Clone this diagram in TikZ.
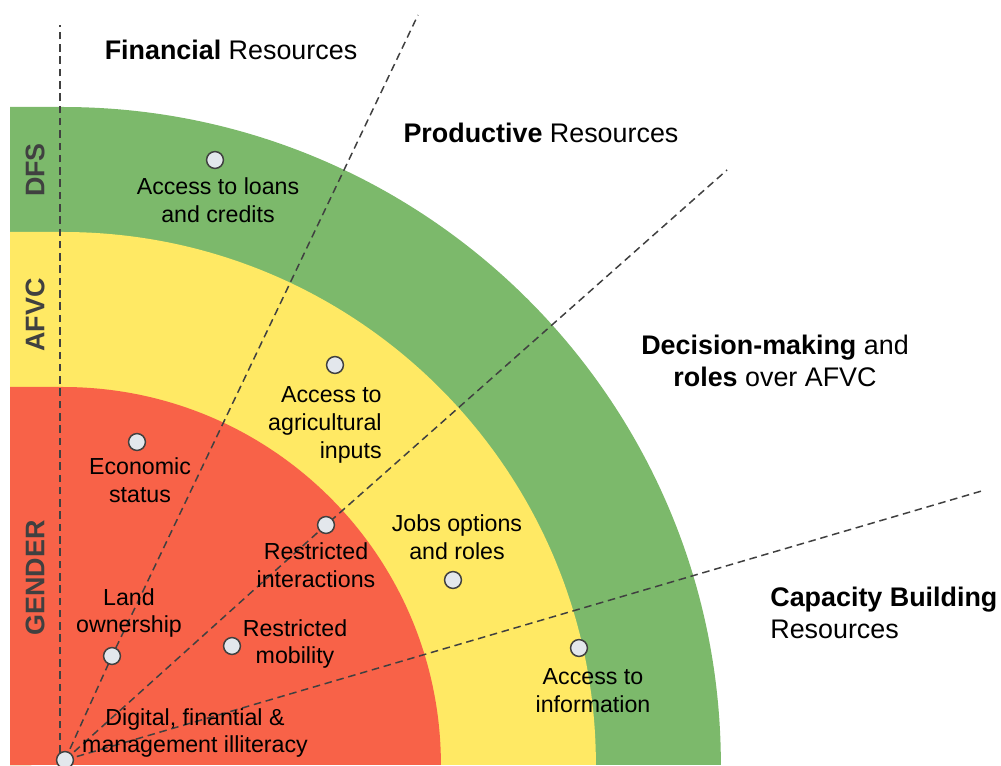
\documentclass[tikz,border=0pt]{standalone}
\usepackage{fontspec}
\setmainfont{Liberation Sans}
\definecolor{bandgreen}{HTML}{7CB96B}
\definecolor{bandyellow}{HTML}{FFE964}
\definecolor{bandred}{HTML}{F86248}
\definecolor{dotfill}{HTML}{E3E7EC}
\definecolor{ink}{HTML}{404040}
\pgfdeclarelayer{back}
\pgfsetlayers{back,main}
\begin{document}
\begin{tikzpicture}[x=0.02cm,y=0.02cm,
  dot/.style={circle,draw=ink,fill=dotfill,line width=0.85pt,minimum size=9.6pt,inner sep=0pt},
  guide/.style={draw=ink,line width=0.85pt,dash pattern=on 4.3pt off 2.7pt},
  lbl/.style={inner sep=0pt,align=center,font=\fontsize{13.2}{15.9}\selectfont},
  head/.style={inner sep=0pt,font=\fontsize{15.3}{18.1}\selectfont},
  band/.style={inner sep=0pt,rotate=90,text=ink,font=\fontsize{15.3}{18}\selectfont\bfseries}]
\useasboundingbox (0,0) rectangle (1001,765);

% points
\node[dot] (origin) at (65,5) {};
\node[dot] (loans) at (215,605) {};
\node[dot] (agri) at (335,400) {};
\node[dot] (econ) at (137,323) {};
\node[dot] (inter) at (326,240) {};
\node[dot] (jobs) at (453,185) {};
\node[dot] (info) at (579,117) {};
\node[dot] (land) at (112,109) {};
\node[dot] (mob) at (232,119) {};

% free ends of the sector boundaries
\coordinate (vtop) at (60,740);
\coordinate (vbot) at (60,0);
\coordinate (e1) at (418,750);
\coordinate (e2) at (727,595);
\coordinate (e3) at (985,275);

\begin{pgfonlayer}{back}
  % concentric bands, each a strip on the left joined to a quarter disc
  \fill[bandgreen] (10,0) -- (10,658) -- (63,658) arc[start angle=90,end angle=0,radius=13.16cm] -- cycle;
  \fill[bandyellow] (10,0) -- (10,533) -- (63,533) arc[start angle=90,end angle=0,radius=10.66cm] -- cycle;
  \fill[bandred] (10,0) -- (10,378) -- (63,378) arc[start angle=90,end angle=0,radius=7.56cm] -- cycle;
  % sector boundaries
  \draw[guide] (vbot) -- (vtop);
  \draw[guide] (origin.center) -- (land.center) -- (e1);
  \draw[guide] (origin.center) -- (inter.center) -- (e2);
  \draw[guide] (origin.center) -- (e3);
\end{pgfonlayer}

% band names
\node[band] (dfs) at (35,595) {DFS};
\node[band] (afvc) at (35,450) {AFVC};
\node[band] (gender) at (35,187) {GENDER};

% point labels
\node[lbl] (tloans) at (218,565) {Access to loans\\and credits};
\node[lbl,anchor=east,align=right] (tagri) at (382,340) {Access to\\agricultural\\inputs};
\node[lbl] (tecon) at (140,285) {Economic\\status};
\node[lbl] (tjobs) at (457,228) {Jobs options\\and roles};
\node[lbl] (tinter) at (316,200) {Restricted\\interactions};
\node[lbl] (tland) at (129,152) {Land\\ownership};
\node[lbl] (tmob) at (295,121) {Restricted\\mobility};
\node[lbl] (tinfo) at (593,74) {Access to\\information};
\node[lbl] (tdig) at (195,32) {Digital, finantial \&\\management illiteracy};

% sector headings
\node[head] (hfin) at (231,715) {\textbf{Financial} Resources};
\node[head] (hprod) at (541,632) {\textbf{Productive} Resources};
\node[head,align=center] (hdec) at (775,404) {\textbf{Decision-making} and\\\textbf{roles} over AFVC};
\node[head,align=left,anchor=west] (hcap) at (770,152) {\textbf{Capacity Building}\\Resources};
\end{tikzpicture}
\end{document}
